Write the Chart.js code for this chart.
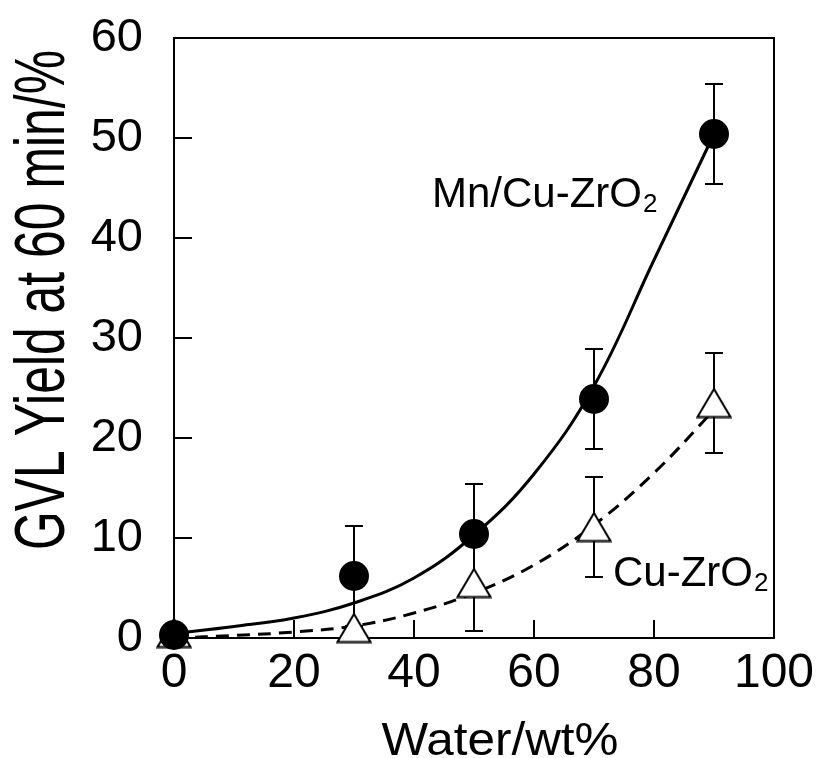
<!DOCTYPE html>
<html>
<head>
<meta charset="utf-8">
<script src="https://cdn.jsdelivr.net/npm/chart.js@4.4.0/dist/chart.umd.min.js"></script>
<style>
  html, body { margin: 0; padding: 0; background: #fff; }
  #wrap { width: 822px; height: 758px; }
</style>
</head>
<body>
<div id="wrap"><canvas id="myChart" width="822" height="758"></canvas></div>
<script>
// measured points (water wt% vs GVL yield %)
const waterX = [0, 30, 50, 70, 90];
const mnCuYield = [0.3, 6.2, 10.4, 23.9, 50.4];
const mnCuError = [0, 5, 5, 5, 5];
const cuYield = [0.5, 1.0, 5.5, 11.1, 23.5];
const cuError = [0, 0, 4.8, 5, 5];

// fitted curves
const fitX = [0, 10, 20, 30, 40, 50, 60, 70, 80, 90];
const mnCuFit = [0.45, 1.15, 2.0, 3.5, 6.0, 10.3, 16.4, 25.2, 37.8, 50.4];
const cuFit = [0, 0.25, 0.6, 1.2, 2.5, 4.5, 7.3, 11.3, 16.5, 22.8];

const xTicks = [0, 20, 40, 60, 80, 100];
const yTicks = [0, 10, 20, 30, 40, 50, 60];

const FONT = '"Liberation Sans", Arial, Helvetica, sans-serif';

function toPoints(xs, ys) {
    return xs.map((x, i) => ({ x: x, y: ys[i] }));
}

// open triangle marker, centred on its box like the original
function makeTriangle() {
    var c = document.createElement('canvas');
    c.width = 36; c.height = 31;
    var g = c.getContext('2d');
    g.beginPath();
    g.moveTo(18, 1.5);
    g.lineTo(34.5, 29.5);
    g.lineTo(1.5, 29.5);
    g.closePath();
    g.fillStyle = '#fff';
    g.fill();
    g.lineWidth = 2;
    g.strokeStyle = '#000';
    g.stroke();
    return c;
}

function drawLabel(ctx, main, sub, x, base) {
    ctx.font = '42px ' + FONT;
    ctx.textAlign = 'left';
    ctx.textBaseline = 'alphabetic';
    ctx.fillText(main, x, base);
    var w = ctx.measureText(main).width;
    ctx.font = '26px ' + FONT;
    ctx.fillText(sub, x + w + 1, base + 5);
}

const decor = {
    id: 'decor',
    beforeDatasetsDraw(chart) {
        var ctx = chart.ctx, a = chart.chartArea;
        var x = chart.scales.x, y = chart.scales.y;
        ctx.save();
        ctx.strokeStyle = '#000';
        ctx.lineWidth = 2;
        ctx.strokeRect(a.left, a.top, a.right - a.left, a.bottom - a.top);

        ctx.beginPath();
        xTicks.forEach(v => {
            var px = Math.round(x.getPixelForValue(v));
            ctx.moveTo(px, a.bottom);
            ctx.lineTo(px, a.bottom - 18);
        });
        yTicks.forEach(v => {
            var py = Math.round(y.getPixelForValue(v));
            ctx.moveTo(a.left, py);
            ctx.lineTo(a.left + 18, py);
        });
        ctx.stroke();

        // error bars
        ctx.lineWidth = 2;
        ctx.beginPath();
        [[mnCuYield, mnCuError], [cuYield, cuError]].forEach(s => {
            waterX.forEach((wx, i) => {
                if (!s[1][i]) return;
                var px = x.getPixelForValue(wx);
                var top = y.getPixelForValue(s[0][i] + s[1][i]);
                var bot = y.getPixelForValue(s[0][i] - s[1][i]);
                ctx.moveTo(px, top); ctx.lineTo(px, bot);
                ctx.moveTo(px - 9, top); ctx.lineTo(px + 9, top);
                ctx.moveTo(px - 9, bot); ctx.lineTo(px + 9, bot);
            });
        });
        ctx.stroke();
        ctx.restore();
    },
    afterDraw(chart) {
        var ctx = chart.ctx;
        ctx.save();
        ctx.fillStyle = '#000';

        drawLabel(ctx, 'Mn/Cu-ZrO', '2', 432, 207);
        drawLabel(ctx, 'Cu-ZrO', '2', 613, 586);

        // x axis title
        ctx.save();
        ctx.font = '46px ' + FONT;
        var t = 'Water/wt%';
        var sx = 237 / ctx.measureText(t).width;
        ctx.translate(500, 755);
        ctx.scale(sx, 1);
        ctx.textAlign = 'center';
        ctx.textBaseline = 'alphabetic';
        ctx.fillText(t, 0, 0);
        ctx.restore();

        // y axis title
        ctx.save();
        ctx.font = '48px ' + FONT;
        var yt = 'GVL Yield at 60 min/%';
        var sy = 500 / ctx.measureText(yt).width;
        ctx.translate(64, 300);
        ctx.rotate(-Math.PI / 2);
        ctx.scale(sy, 1.45);
        ctx.textAlign = 'center';
        ctx.textBaseline = 'alphabetic';
        ctx.fillText(yt, 0, 0);
        ctx.restore();

        ctx.restore();
    }
};

var ctx = document.getElementById('myChart');
var myChart = new Chart(ctx, {
    type: 'scatter',
    data: {
        datasets: [
            {
                label: 'Mn/Cu-ZrO2',
                data: toPoints(waterX, mnCuYield),
                pointStyle: 'circle',
                pointRadius: 15,
                pointHoverRadius: 15,
                backgroundColor: '#000',
                borderWidth: 0,
                clip: false,
                order: 0
            },
            {
                label: 'Cu-ZrO2',
                data: toPoints(waterX, cuYield),
                pointStyle: makeTriangle(),
                clip: false,
                order: 1
            },
            {
                type: 'line',
                label: 'Mn/Cu-ZrO2 fit',
                data: toPoints(fitX, mnCuFit),
                borderColor: '#000',
                borderWidth: 3,
                pointRadius: 0,
                tension: 0.4,
                fill: false,
                clip: false,
                order: 2
            },
            {
                type: 'line',
                label: 'Cu-ZrO2 fit',
                data: toPoints(fitX, cuFit),
                borderColor: '#000',
                borderWidth: 3,
                borderDash: [13, 8],
                pointRadius: 0,
                tension: 0.4,
                fill: false,
                clip: false,
                order: 3
            }
        ]
    },
    options: {
        responsive: false,
        animation: false,
        devicePixelRatio: 1,
        layout: { padding: { top: 38, right: 48, left: 0, bottom: 0 } },
        plugins: {
            legend: { display: false },
            tooltip: { enabled: false }
        },
        scales: {
            x: {
                type: 'linear',
                min: 0,
                max: 100,
                afterBuildTicks: s => { s.ticks = xTicks.map(v => ({ value: v })); },
                afterFit: s => { s.height = 120; s.paddingLeft = 0; s.paddingRight = 0; },
                grid: { display: false, drawTicks: false },
                border: { display: false },
                ticks: { color: '#000', padding: 7, maxRotation: 0, font: { family: FONT, size: 48 } }
            },
            y: {
                type: 'linear',
                min: 0,
                max: 60,
                afterBuildTicks: s => { s.ticks = yTicks.map(v => ({ value: v })); },
                afterFit: s => { s.width = 174; s.paddingTop = 0; s.paddingBottom = 0; },
                grid: { display: false, drawTicks: false },
                border: { display: false },
                ticks: { color: '#000', padding: 31, font: { family: FONT, size: 47 } }
            }
        }
    },
    plugins: [decor]
});
</script>
</body>
</html>
